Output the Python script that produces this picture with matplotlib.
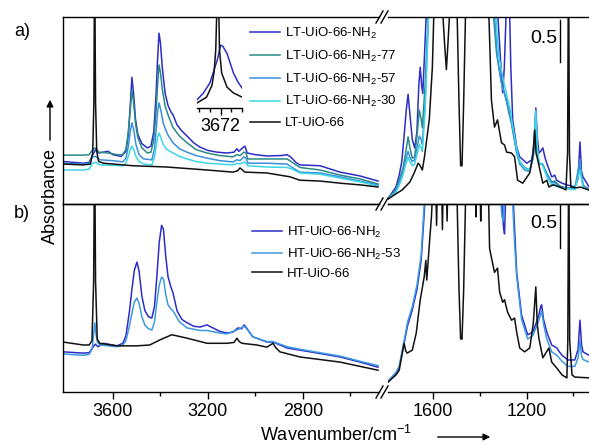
import numpy as np
import matplotlib
matplotlib.use("Agg")
import matplotlib.pyplot as plt
from matplotlib.lines import Line2D
from matplotlib.patches import FancyArrowPatch

plt.rcParams["font.family"] = ["Liberation Sans", "DejaVu Sans"]
plt.rcParams["mathtext.fontset"] = "custom"
plt.rcParams["mathtext.rm"] = "Liberation Sans"
plt.rcParams["mathtext.it"] = "Liberation Sans:italic"
plt.rcParams["mathtext.bf"] = "Liberation Sans:bold"

# ---- panel a: LT samples, (wavenumber, absorbance) ----
LT_NH2_HI = [(3810, 0.50), (3725, 0.48), (3700, 0.49), (3685, 0.58), (3672, 0.64), (3660, 0.60), (3640, 0.61),
             (3620, 0.62), (3600, 0.58), (3565, 0.56), (3545, 0.62), (3535, 0.82), (3527, 1.15), (3520, 1.49),
             (3513, 1.30), (3505, 1.00), (3495, 0.82), (3478, 0.71), (3455, 0.66), (3440, 0.68), (3428, 0.85),
             (3418, 1.30), (3412, 1.70), (3406, 2.01), (3400, 1.90), (3392, 1.60), (3380, 1.30), (3368, 1.16),
             (3355, 1.08), (3347, 1.05), (3330, 0.93), (3310, 0.86), (3288, 0.80), (3260, 0.72), (3234, 0.67),
             (3200, 0.63), (3162, 0.61), (3120, 0.60), (3090, 0.61), (3078, 0.65), (3070, 0.62), (3050, 0.67),
             (3044, 0.68), (3035, 0.60), (3000, 0.58), (2952, 0.565), (2890, 0.57), (2867, 0.58), (2850, 0.55),
             (2830, 0.49), (2813, 0.46), (2728, 0.45), (2644, 0.375), (2560, 0.33), (2484, 0.27)]
LT_77_HI = [(3810, 0.575), (3725, 0.575), (3700, 0.58), (3685, 0.64), (3672, 0.66), (3660, 0.61), (3620, 0.60),
            (3580, 0.58), (3560, 0.58), (3545, 0.64), (3535, 0.85), (3527, 1.10), (3520, 1.34), (3513, 1.20),
            (3505, 0.95), (3495, 0.78), (3478, 0.66), (3455, 0.60), (3440, 0.61), (3428, 0.75), (3418, 1.10),
            (3412, 1.40), (3406, 1.635), (3400, 1.55), (3392, 1.35), (3380, 1.15), (3368, 1.05), (3347, 0.90),
            (3320, 0.80), (3288, 0.72), (3250, 0.64), (3204, 0.60), (3150, 0.57), (3095, 0.555), (3078, 0.58),
            (3065, 0.57), (3048, 0.61), (3040, 0.60), (3032, 0.53), (2952, 0.53), (2867, 0.53), (2845, 0.49),
            (2813, 0.43), (2728, 0.40), (2644, 0.34), (2560, 0.295), (2484, 0.235)]
LT_57_HI = [(3810, 0.48), (3725, 0.47), (3700, 0.48), (3686, 0.555), (3672, 0.56), (3655, 0.52), (3600, 0.51),
            (3558, 0.495), (3545, 0.54), (3535, 0.68), (3527, 0.85), (3520, 0.955), (3512, 0.87), (3503, 0.70),
            (3490, 0.58), (3470, 0.53), (3436, 0.52), (3425, 0.65), (3417, 0.90), (3412, 1.08), (3406, 1.19),
            (3398, 1.10), (3388, 0.95), (3376, 0.86), (3368, 0.81), (3347, 0.72), (3320, 0.65), (3288, 0.61),
            (3250, 0.57), (3204, 0.54), (3150, 0.51), (3095, 0.495), (3078, 0.52), (3065, 0.51), (3048, 0.555),
            (3040, 0.54), (3032, 0.48), (2952, 0.48), (2867, 0.47), (2845, 0.43), (2813, 0.375), (2728, 0.365),
            (2644, 0.32), (2560, 0.27), (2484, 0.225)]
LT_30_HI = [(3810, 0.40), (3725, 0.40), (3700, 0.41), (3686, 0.48), (3672, 0.49), (3655, 0.46), (3600, 0.455),
            (3558, 0.45), (3545, 0.48), (3535, 0.56), (3527, 0.64), (3520, 0.68), (3512, 0.64), (3503, 0.56),
            (3490, 0.50), (3470, 0.47), (3436, 0.46), (3425, 0.55), (3417, 0.70), (3412, 0.79), (3406, 0.835),
            (3398, 0.78), (3388, 0.70), (3376, 0.65), (3368, 0.635), (3347, 0.60), (3320, 0.56), (3288, 0.53),
            (3250, 0.50), (3204, 0.48), (3150, 0.47), (3095, 0.46), (3078, 0.48), (3065, 0.47), (3048, 0.495),
            (3040, 0.48), (3032, 0.45), (2952, 0.435), (2867, 0.43), (2845, 0.41), (2813, 0.365), (2728, 0.35),
            (2644, 0.305), (2560, 0.26), (2484, 0.21)]
LT_66_HI = [(3810, 0.47), (3725, 0.46), (3695, 0.47), (3685, 0.60), (3680, 1.20), (3677, 3.00), (3673, 1.20),
            (3668, 0.62), (3660, 0.50), (3640, 0.48), (3515, 0.45), (3373, 0.435), (3204, 0.40), (3095, 0.375),
            (3075, 0.39), (3065, 0.425), (3055, 0.40), (3044, 0.375), (2952, 0.365), (2855, 0.32), (2813, 0.28),
            (2728, 0.27), (2644, 0.245), (2560, 0.225), (2484, 0.20)]

LT_NH2_LO = [(1798, 0.05), (1760, 0.20), (1746, 0.34), (1735, 0.50), (1725, 0.80), (1716, 1.10), (1708, 1.29),
             (1700, 1.05), (1690, 0.76), (1680, 0.66), (1670, 0.85), (1662, 1.40), (1656, 1.61), (1650, 1.40),
             (1645, 1.30), (1637, 1.80), (1626, 2.50), (1330, 2.50), (1310, 1.60), (1303, 1.31), (1296, 1.60),
             (1285, 2.50), (1275, 2.50), (1268, 1.60), (1260, 0.99), (1243, 0.67), (1230, 0.555), (1200, 0.48),
             (1178, 0.52), (1168, 0.75), (1161, 1.13), (1155, 0.80), (1148, 0.60), (1140, 0.62), (1131, 0.66),
             (1122, 0.55), (1114, 0.48), (1093, 0.32), (1085, 0.33), (1080, 0.34), (1072, 0.28), (1049, 0.245),
             (1028, 0.225), (994, 0.20), (980, 0.30), (972, 0.73), (965, 0.38), (959, 0.32), (933, 0.20), (903, 0.19)]
LT_77_LO = [(1798, 0.05), (1760, 0.17), (1746, 0.28), (1730, 0.42), (1720, 0.575), (1708, 0.79), (1700, 0.66),
            (1690, 0.54), (1680, 0.55), (1668, 0.85), (1660, 1.105), (1652, 1.00), (1647, 0.895), (1635, 1.40),
            (1617, 2.50), (1350, 2.50), (1330, 1.80), (1310, 1.45), (1290, 1.25), (1275, 1.10), (1260, 0.87),
            (1243, 0.62), (1230, 0.50), (1209, 0.43), (1187, 0.40), (1172, 0.55), (1161, 0.95), (1155, 0.65),
            (1148, 0.48), (1131, 0.46), (1114, 0.36), (1093, 0.26), (1080, 0.27), (1058, 0.21), (1030, 0.19),
            (994, 0.18), (972, 0.45), (959, 0.22), (933, 0.17), (903, 0.16)]
LT_57_LO = [(1798, 0.05), (1760, 0.15), (1746, 0.25), (1730, 0.38), (1720, 0.50), (1708, 0.62), (1700, 0.55),
            (1690, 0.50), (1680, 0.52), (1668, 0.68), (1660, 0.80), (1652, 0.76), (1647, 0.70), (1635, 1.20),
            (1617, 2.50), (1345, 2.50), (1325, 1.70), (1305, 1.38), (1290, 1.25), (1275, 1.05), (1265, 0.95),
            (1243, 0.60), (1230, 0.47), (1209, 0.40), (1187, 0.38), (1172, 0.55), (1161, 1.00), (1155, 0.65),
            (1148, 0.47), (1131, 0.47), (1114, 0.35), (1093, 0.25), (1080, 0.25), (1058, 0.20), (1030, 0.19),
            (994, 0.18), (972, 0.52), (959, 0.22), (933, 0.17), (903, 0.16)]
LT_30_LO = [(1798, 0.05), (1760, 0.14), (1746, 0.22), (1730, 0.34), (1720, 0.45), (1708, 0.55), (1700, 0.50),
            (1690, 0.45), (1680, 0.47), (1668, 0.60), (1660, 0.70), (1652, 0.66), (1647, 0.62), (1635, 1.10),
            (1617, 2.50), (1340, 2.50), (1320, 1.75), (1300, 1.45), (1285, 1.28), (1270, 1.10), (1265, 1.00),
            (1243, 0.65), (1230, 0.50), (1209, 0.42), (1187, 0.40), (1172, 0.58), (1161, 1.10), (1155, 0.68),
            (1148, 0.50), (1131, 0.45), (1114, 0.32), (1093, 0.22), (1080, 0.23), (1058, 0.19), (1030, 0.18),
            (994, 0.17), (972, 0.40), (959, 0.20), (933, 0.16), (903, 0.15)]
LT_66_LO = [(1798, 0.05), (1760, 0.12), (1733, 0.165), (1700, 0.26), (1682, 0.365), (1665, 0.48), (1656, 0.45),
            (1647, 0.40), (1638, 0.55), (1630, 0.72), (1617, 1.00), (1604, 1.61), (1595, 2.50), (1565, 2.50),
            (1552, 1.90), (1544, 1.58), (1537, 1.90), (1525, 2.50), (1500, 2.50), (1490, 1.20), (1483, 0.45),
            (1477, 0.45), (1470, 1.20), (1460, 2.50), (1365, 2.50), (1351, 1.22), (1338, 0.905), (1325, 0.99),
            (1308, 0.72), (1295, 0.695), (1286, 0.61), (1265, 0.60), (1252, 0.555), (1243, 0.365), (1239, 0.28),
            (1217, 0.245), (1187, 0.365), (1172, 0.60), (1166, 0.87), (1160, 0.60), (1153, 0.52), (1131, 0.245),
            (1114, 0.28), (1105, 0.20), (1088, 0.225), (1058, 0.20), (1032, 0.165), (1025, 0.60), (1021, 3.00),
            (1017, 0.60), (1011, 0.20), (985, 0.19), (972, 0.20), (933, 0.165), (903, 0.16)]

# ---- inset of panel a, OH band around 3672 ----
INSET_LT_NH2 = [(3694, 0.09), (3688, 0.165), (3682, 0.275), (3678, 0.42), (3675, 0.53), (3672, 0.69),
                (3670, 0.68), (3666, 0.60), (3660, 0.385), (3656, 0.29), (3652, 0.22)]
INSET_LT_66 = [(3694, 0.055), (3685, 0.12), (3680, 0.25), (3678, 0.40), (3676.5, 0.64), (3675, 1.30),
               (3674, 1.30), (3673, 0.64), (3671, 0.385), (3666, 0.23), (3660, 0.165), (3652, 0.12)]

# ---- panel b: HT samples ----
HT_NH2_HI = [(3810, 0.47), (3725, 0.455), (3700, 0.46), (3685, 0.52), (3675, 0.56), (3662, 0.53), (3640, 0.57),
             (3600, 0.55), (3583, 0.54), (3558, 0.57), (3545, 0.66), (3530, 0.95), (3520, 1.20), (3510, 1.42),
             (3499, 1.52), (3490, 1.42), (3478, 1.12), (3465, 0.95), (3450, 0.88), (3436, 0.865), (3425, 1.00),
             (3415, 1.35), (3405, 1.75), (3395, 1.95), (3387, 1.90), (3378, 1.60), (3368, 1.35), (3355, 1.22),
             (3347, 1.16), (3330, 0.95), (3310, 0.85), (3288, 0.81), (3260, 0.77), (3234, 0.76), (3204, 0.785),
             (3179, 0.75), (3150, 0.71), (3120, 0.69), (3095, 0.70), (3074, 0.75), (3058, 0.74), (3048, 0.785),
             (3040, 0.76), (3011, 0.645), (2952, 0.585), (2926, 0.585), (2867, 0.515), (2813, 0.49), (2728, 0.45),
             (2644, 0.41), (2560, 0.35), (2484, 0.29)]
HT_53_HI = [(3810, 0.445), (3725, 0.43), (3700, 0.44), (3688, 0.50), (3680, 0.70), (3676, 0.81), (3672, 0.70),
            (3665, 0.58), (3655, 0.55), (3620, 0.54), (3583, 0.53), (3558, 0.55), (3545, 0.60), (3530, 0.78),
            (3520, 0.92), (3510, 1.05), (3499, 1.10), (3490, 1.04), (3478, 0.88), (3465, 0.78), (3450, 0.74),
            (3436, 0.725), (3425, 0.82), (3415, 1.05), (3405, 1.25), (3395, 1.345), (3387, 1.32), (3378, 1.15),
            (3368, 1.02), (3355, 0.97), (3347, 0.95), (3320, 0.82), (3288, 0.75), (3234, 0.72), (3204, 0.72),
            (3150, 0.69), (3120, 0.68), (3074, 0.73), (3048, 0.77), (3040, 0.75), (3011, 0.645), (2952, 0.59),
            (2926, 0.59), (2867, 0.53), (2813, 0.50), (2728, 0.46), (2644, 0.42), (2560, 0.36), (2484, 0.31)]
HT_66_HI = [(3810, 0.585), (3725, 0.55), (3700, 0.55), (3688, 0.60), (3681, 1.30), (3677, 3.00), (3673, 1.30),
            (3666, 0.62), (3655, 0.57), (3583, 0.54), (3500, 0.54), (3445, 0.55), (3402, 0.61), (3352, 0.67),
            (3288, 0.63), (3204, 0.57), (3120, 0.57), (3090, 0.58), (3078, 0.63), (3068, 0.59), (3057, 0.57),
            (2994, 0.55), (2952, 0.525), (2926, 0.57), (2915, 0.52), (2897, 0.47), (2813, 0.41), (2728, 0.38),
            (2644, 0.35), (2560, 0.30), (2484, 0.255)]

HT_NH2_LO = [(1798, 0.115), (1760, 0.22), (1746, 0.29), (1725, 0.57), (1710, 0.78), (1690, 0.96), (1670, 1.20),
             (1652, 1.54), (1639, 2.09), (1630, 2.50), (1312, 2.50), (1300, 1.95), (1295, 1.85), (1288, 2.50),
             (1262, 2.50), (1250, 1.80), (1243, 1.40), (1222, 0.90), (1196, 0.67), (1174, 0.70), (1150, 0.88),
             (1140, 1.00), (1136, 1.02), (1128, 0.85), (1114, 0.70), (1093, 0.55), (1071, 0.515), (1060, 0.47),
             (1049, 0.43), (1024, 0.375), (994, 0.375), (980, 0.50), (972, 0.84), (965, 0.55), (959, 0.47),
             (933, 0.43), (903, 0.42)]
HT_53_LO = [(1798, 0.11), (1760, 0.23), (1746, 0.30), (1725, 0.60), (1710, 0.82), (1690, 1.00), (1670, 1.25),
            (1652, 1.60), (1639, 2.20), (1630, 2.50), (1318, 2.50), (1306, 2.05), (1300, 2.00), (1292, 2.50),
            (1265, 2.50), (1252, 1.75), (1243, 1.35), (1222, 0.85), (1196, 0.62), (1174, 0.66), (1150, 0.82),
            (1136, 0.95), (1128, 0.80), (1114, 0.62), (1093, 0.47), (1071, 0.43), (1049, 0.36), (1024, 0.30),
            (994, 0.30), (980, 0.40), (972, 0.60), (965, 0.42), (959, 0.38), (933, 0.35), (903, 0.34)]
HT_66_LO = [(1798, 0.105), (1760, 0.20), (1746, 0.255), (1730, 0.50), (1725, 0.57), (1718, 0.48), (1712, 0.455),
            (1690, 0.49), (1673, 0.69), (1656, 1.08), (1639, 1.345), (1632, 1.54), (1628, 1.31), (1615, 1.80),
            (1608, 2.05), (1600, 2.50), (1590, 2.50), (1586, 1.95), (1582, 2.50), (1565, 2.50), (1561, 1.90),
            (1557, 2.50), (1545, 2.50), (1541, 2.00), (1537, 2.50), (1500, 2.50), (1490, 1.20), (1483, 0.62),
            (1477, 0.62), (1470, 1.20), (1460, 2.50), (1420, 2.50), (1417, 2.05), (1414, 2.50), (1400, 2.50),
            (1397, 2.00), (1394, 2.50), (1365, 2.50), (1359, 1.68), (1338, 1.40), (1325, 1.45), (1316, 1.17),
            (1303, 1.05), (1295, 1.08), (1282, 0.935), (1265, 0.84), (1252, 0.865), (1243, 0.70), (1230, 0.515),
            (1209, 0.47), (1187, 0.515), (1172, 0.80), (1161, 1.23), (1155, 0.80), (1148, 0.63), (1131, 0.40),
            (1105, 0.515), (1093, 0.35), (1071, 0.28), (1049, 0.20), (1028, 0.165), (1024, 0.60), (1020, 3.00),
            (1016, 0.60), (1006, 0.20), (994, 0.175), (933, 0.165), (903, 0.16)]

LT_LABELS = [r"LT-UiO-66-NH$_2$", r"LT-UiO-66-NH$_2$-77", r"LT-UiO-66-NH$_2$-57",
             r"LT-UiO-66-NH$_2$-30", "LT-UiO-66"]
HT_LABELS = [r"HT-UiO-66-NH$_2$", r"HT-UiO-66-NH$_2$-53", "HT-UiO-66"]
LT_COLORS = ["#2d2dc8", "#2a8a84", "#3a8fdc", "#3ad6e4", "#111111"]
HT_COLORS = ["#2d2dc8", "#3d9ae0", "#111111"]

SCALE_BAR = 0.5
YLIM = (0, 2.2)
HI_XLIM = (3810, 2480)
LO_XLIM = (1794, 899)

W, H = 589, 445


def fx(px):
    return px / W


def fy(py):
    return 1 - py / H


def xy(pairs):
    a = np.array(pairs, dtype=float)
    return a[:, 0], a[:, 1]


def make_panel(fig, top, bottom, show_x):
    hi = fig.add_axes([fx(63), fy(bottom), fx(379) - fx(63), fy(top) - fy(bottom)])
    lo = fig.add_axes([fx(388), fy(bottom), fx(597) - fx(388), fy(top) - fy(bottom)])
    hi.set_xlim(*HI_XLIM)
    lo.set_xlim(*LO_XLIM)
    for ax in (hi, lo):
        ax.set_ylim(*YLIM)
        ax.patch.set_visible(False)
        ax.tick_params(left=False, labelleft=False, right=False)
        for s in ax.spines.values():
            s.set_linewidth(1.0)
    hi.spines["right"].set_visible(False)
    lo.spines["left"].set_visible(False)
    if show_x:
        hi.set_xticks([3600, 3200, 2800])
        hi.set_xticks([3400, 3000, 2600], minor=True)
        lo.set_xticks([1600, 1200])
        lo.set_xticks([1400, 1000], minor=True)
        for ax in (hi, lo):
            ax.tick_params(axis="x", which="major", direction="out", length=5, width=1,
                           labelsize=13, pad=3)
            ax.tick_params(axis="x", which="minor", direction="out", length=3, width=1)
    else:
        for ax in (hi, lo):
            ax.tick_params(axis="x", which="both", bottom=False, labelbottom=False)
    return hi, lo


def break_marks(fig, py):
    for x0 in (376, 381):
        fig.add_artist(Line2D([fx(x0), fx(x0 + 7)], [fy(py + 6), fy(py - 6)],
                              transform=fig.transFigure, color="black", lw=1.0))


def scale_bar(ax, wn, top):
    ax.plot([wn, wn], [top - SCALE_BAR, top], color="black", lw=1.0)
    ax.text(wn + 12, top - SCALE_BAR / 2 + 0.03, "0.5", ha="right", va="center", fontsize=14)


fig = plt.figure(figsize=(W / 100, H / 100), dpi=100)

# panel a
a_hi, a_lo = make_panel(fig, 17, 204, False)
handles = []
for hi_d, lo_d, c in zip([LT_NH2_HI, LT_77_HI, LT_57_HI, LT_30_HI, LT_66_HI],
                         [LT_NH2_LO, LT_77_LO, LT_57_LO, LT_30_LO, LT_66_LO], LT_COLORS):
    h, = a_hi.plot(*xy(hi_d), color=c, lw=1.1)
    a_lo.plot(*xy(lo_d), color=c, lw=1.1)
    handles.append(h)
scale_bar(a_lo, 1058, 2.165)
fig.legend(handles, LT_LABELS, loc="upper left", bbox_to_anchor=(fx(250), fy(26)),
           frameon=False, fontsize=9.5, handlelength=2.3, handletextpad=0.35,
           labelspacing=0.58, borderaxespad=0, borderpad=0)

# inset
ins = fig.add_axes([fx(197), fy(108), fx(242) - fx(197), fy(17) - fy(108)])
ins.patch.set_visible(False)
ins.plot(*xy(INSET_LT_NH2), color=LT_COLORS[0], lw=1.1)
ins.plot(*xy(INSET_LT_66), color=LT_COLORS[4], lw=1.1)
ins.set_xlim(3694, 3652)
ins.set_ylim(0, 1)
for s in ("top", "left", "right"):
    ins.spines[s].set_visible(False)
ins.spines["bottom"].set_linewidth(1.0)
ins.set_yticks([])
ins.set_xticks([3672])
ins.set_xticks([3692, 3682, 3662, 3652], minor=True)
ins.tick_params(axis="x", which="major", direction="out", length=5, width=1, labelsize=13, pad=2)
ins.tick_params(axis="x", which="minor", direction="out", length=3, width=1)

# panel b
b_hi, b_lo = make_panel(fig, 204, 392, True)
handles = []
for hi_d, lo_d, c in zip([HT_NH2_HI, HT_53_HI, HT_66_HI], [HT_NH2_LO, HT_53_LO, HT_66_LO], HT_COLORS):
    h, = b_hi.plot(*xy(hi_d), color=c, lw=1.1)
    b_lo.plot(*xy(lo_d), color=c, lw=1.1)
    handles.append(h)
scale_bar(b_lo, 1058, 2.19)
fig.legend(handles, HT_LABELS, loc="upper left", bbox_to_anchor=(fx(252), fy(225)),
           frameon=False, fontsize=9.5, handlelength=2.3, handletextpad=0.35,
           labelspacing=0.48, borderaxespad=0, borderpad=0)

for py in (17, 204, 392):
    break_marks(fig, py)

fig.text(fx(14), fy(32), "a)", fontsize=13, va="center")
fig.text(fx(14), fy(213), "b)", fontsize=13, va="center")
fig.text(fx(50), fy(196), "Absorbance", rotation=90, fontsize=13, ha="center", va="center")
fig.add_artist(FancyArrowPatch((fx(50), fy(143)), (fx(50), fy(97)), transform=fig.transFigure,
                               arrowstyle="-|>", mutation_scale=10, color="black", lw=1.0))
fig.text(fx(336), fy(435), r"Wavenumber/cm$^{-1}$", fontsize=13, ha="center", va="center")
fig.add_artist(FancyArrowPatch((fx(435), fy(437)), (fx(493), fy(437)), transform=fig.transFigure,
                               arrowstyle="-|>", mutation_scale=10, color="black", lw=1.0))

fig.savefig("out.png", dpi=100)
